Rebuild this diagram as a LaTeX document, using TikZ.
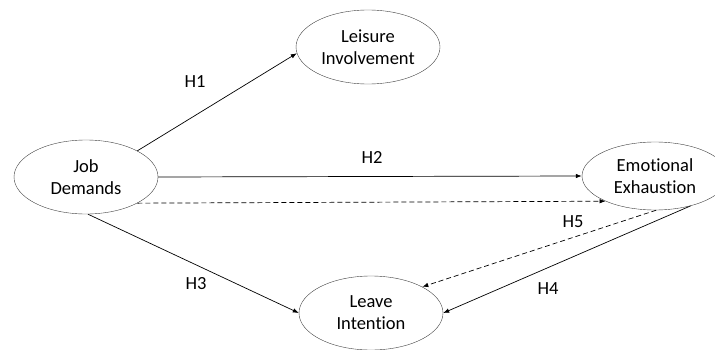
\documentclass[tikz,border=0pt]{standalone}
\usepackage{fontspec}
\setmainfont{Carlito}[Ligatures=NoCommon]
\usepackage{tikz}
\usetikzlibrary{arrows.meta,positioning,shapes.geometric}

\begin{document}
\begin{tikzpicture}[x=1pt, y=1pt,
  construct/.style={draw=black!75, ellipse, minimum width=144pt, minimum height=74pt,
              inner sep=0pt, align=center, font=\fontsize{18.5}{22}\selectfont},
  hyp/.style={font=\fontsize{18.5}{22}\selectfont},
  arr/.style={-{Latex[length=6pt,width=4.5pt]}, black, line width=0.7pt},
  darr/.style={arr, dash pattern=on 5pt off 3pt}]
\useasboundingbox (0,0) rectangle (715,349);
\node[construct] (jd) at (86,172) {Job\\Demands};
\node[construct] (li) at (368,302) {Leisure\\Involvement};
\node[construct, minimum height=68pt, minimum width=146pt] (ee) at (655,173) {Emotional\\Exhaustion};
\node[construct] (le) at (371,36) {Leave\\Intention};
\node[hyp] (h1) at (195,267) {H1};
\node[hyp] (h2) at (372,192) {H2};
\node[hyp] (h3) at (196,65) {H3};
\node[hyp] (h4) at (548,60) {H4};
\node[hyp] (h5) at (573,127) {H5};
\draw[arr] (jd.27) -- (li.185);
\draw[arr] (jd.east) -- (ee.west);
\draw[darr] (jd.-27) -- (ee.207);
\draw[arr] (jd.-87) -- (le.west);
\draw[arr] (ee.-40) -- (le.east);
\draw[darr] (ee.-88) -- (le.27);
\end{tikzpicture}
\end{document}
